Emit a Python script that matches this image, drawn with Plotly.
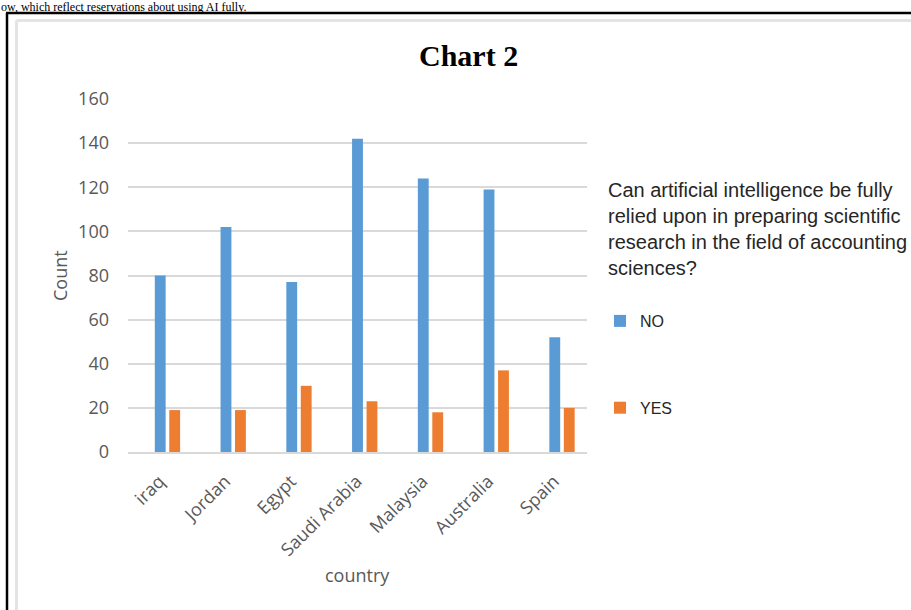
import plotly.graph_objects as go

# Survey answers by country
countries = ["iraq", "Jordan", "Egypt", "Saudi Arabia", "Malaysia", "Australia", "Spain"]
no_counts = [80, 102, 77, 142, 124, 119, 52]
yes_counts = [19, 19, 30, 23, 18, 37, 20]

W, H = 911, 610
PL, PR, PT, PB = 128, 587, 99, 452  # plot area in pixels


def xp(px):
    return (px - PL) / (PR - PL)


def yp(py):
    return (PB - py) / (PB - PT)


AXIS_GRAY = "#595959"

fig = go.Figure()
fig.add_trace(go.Bar(
    x=countries, y=no_counts, name="NO", legendgroup="no",
    marker=dict(color="#5B9BD5", line=dict(width=0)),
))
fig.add_trace(go.Bar(
    x=countries, y=yes_counts, name="YES", legendgroup="yes",
    marker=dict(color="#ED7D31", line=dict(width=0)),
))

# page frame around the chart
shapes = [
    dict(type="line", xref="paper", yref="paper", x0=xp(16.5), x1=xp(915), y0=yp(20.5), y1=yp(20.5),
         line=dict(color="#e4e4e4", width=3)),
    dict(type="line", xref="paper", yref="paper", x0=xp(16.5), x1=xp(16.5), y0=yp(20.5), y1=yp(615),
         line=dict(color="#e4e4e4", width=3)),
    dict(type="line", xref="paper", yref="paper", x0=xp(6), x1=xp(915), y0=yp(13), y1=yp(13),
         line=dict(color="black", width=2.5)),
    dict(type="line", xref="paper", yref="paper", x0=xp(7), x1=xp(7), y0=yp(13), y1=yp(615),
         line=dict(color="black", width=2.5)),
]

annotations = [
    dict(text="ow, which reflect reservations about using AI fully.", xref="paper", yref="paper",
         x=xp(0), y=yp(-1), xanchor="left", yanchor="top", showarrow=False, borderpad=0,
         font=dict(family="Liberation Serif", size=12, color="black")),
    dict(text="<b>Chart 2</b>", xref="paper", yref="paper", x=xp(468), y=yp(56),
         xanchor="center", yanchor="middle", showarrow=False,
         font=dict(family="Liberation Serif", size=30, color="black")),
    dict(text="Count", xref="paper", yref="paper", x=xp(60), y=yp(276), textangle=-90,
         xanchor="center", yanchor="middle", showarrow=False,
         font=dict(family="Open Sans", size=18, color=AXIS_GRAY)),
    dict(text="country", xref="paper", yref="paper", x=xp(357), y=yp(575),
         xanchor="center", yanchor="middle", showarrow=False,
         font=dict(family="Open Sans", size=18, color=AXIS_GRAY)),
    dict(text="Can artificial intelligence be fully<br>relied upon in preparing scientific<br>"
              "research in the field of accounting<br>sciences?",
         xref="paper", yref="paper", x=xp(606), y=yp(229), xanchor="left", yanchor="middle",
         align="left", showarrow=False,
         font=dict(family="Liberation Sans", size=20, color="#262626")),
]

fig.update_layout(
    width=W, height=H, autosize=False,
    margin=dict(l=PL, r=W - PR, t=PT, b=H - PB, pad=0),
    paper_bgcolor="white", plot_bgcolor="white",
    barmode="group", bargap=0.56, bargroupgap=0.25,
    showlegend=True,
    legend=dict(x=xp(600), y=yp(304), xanchor="left", yanchor="top",
                tracegroupgap=63, traceorder="grouped",
                font=dict(family="Liberation Sans", size=16, color="#262626"),
                bgcolor="rgba(0,0,0,0)"),
    shapes=shapes,
    annotations=annotations,
    xaxis=dict(type="category", range=[-0.6, 6.38], showgrid=False, zeroline=False,
               showline=True, linecolor="#d9d9d9", linewidth=1.5, ticks="",
               tickangle=-45, tickfont=dict(family="Open Sans", size=18, color=AXIS_GRAY),
               ticklabelstandoff=10, ticklabelshift=-8),
    yaxis=dict(range=[0, 160], dtick=20, showgrid=True, gridcolor="#d9d9d9", gridwidth=1.5,
               zeroline=False, showline=False, ticks="",
               tickfont=dict(family="Open Sans", size=18, color=AXIS_GRAY),
               ticklabelstandoff=18),
)

fig.write_html("out.html")
